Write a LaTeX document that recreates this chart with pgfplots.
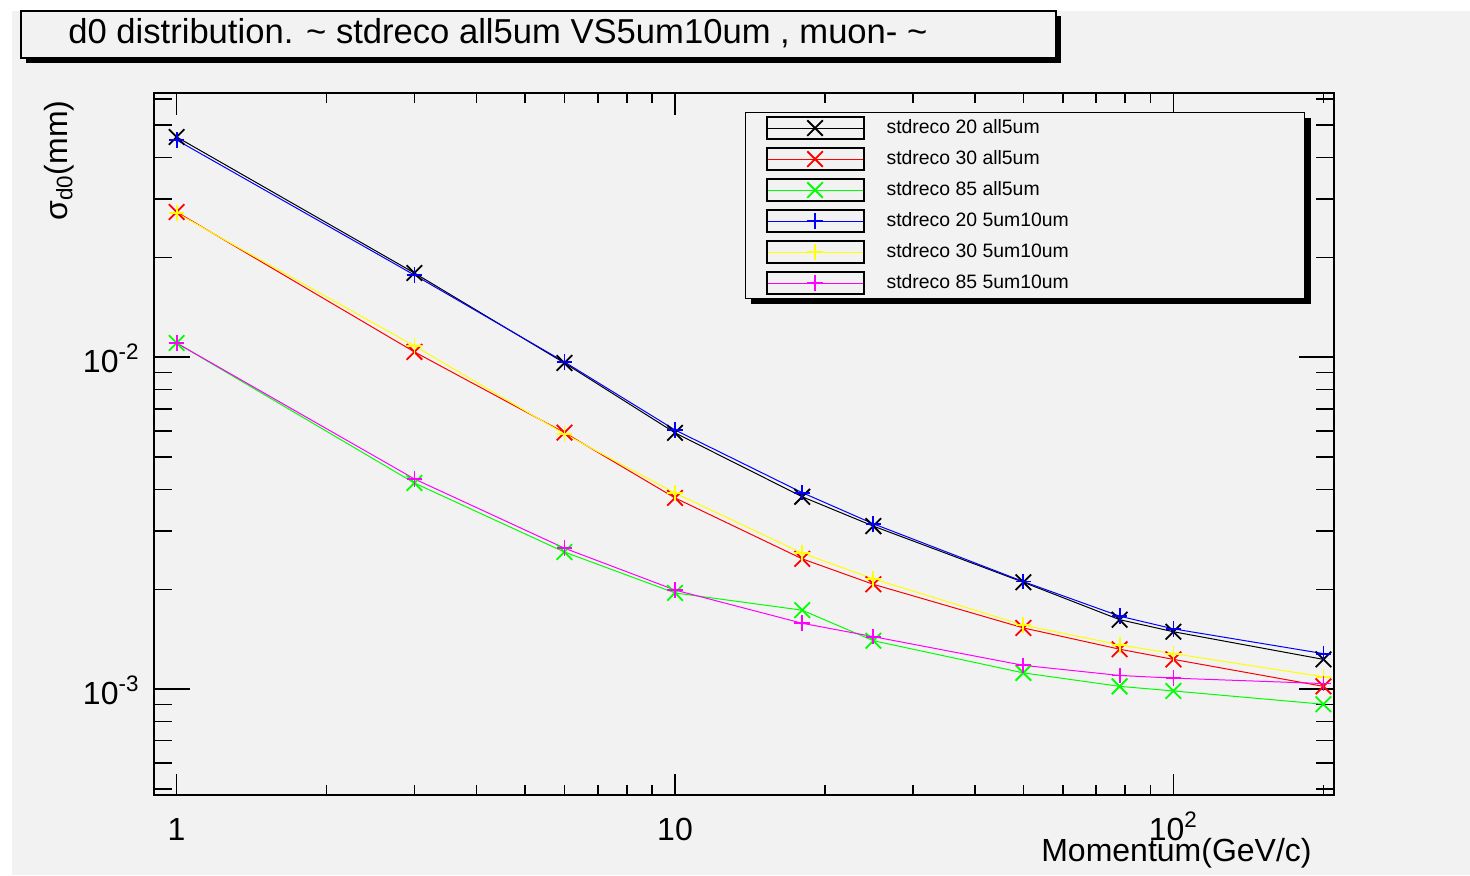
\documentclass[border=0pt]{standalone}
\usepackage{fontspec}
\setmainfont{Liberation Sans}
\usepackage{pgfplots}
\pgfplotsset{compat=1.18}
\usetikzlibrary{shadows}
\definecolor{rootbg}{RGB}{242,242,242}
\definecolor{rred}{RGB}{255,0,0}
\definecolor{rgreen}{RGB}{0,255,0}
\definecolor{rblue}{RGB}{0,0,255}
\definecolor{ryellow}{RGB}{255,255,0}
\definecolor{rmagenta}{RGB}{255,0,255}

\begin{document}
\begin{tikzpicture}
\path[use as bounding box] (-77.15pt,-40pt) rectangle (657.85pt,397.5pt);
\fill[rootbg] (-71.15pt,-40pt) rectangle (657.85pt,392pt);

% title box
\node[draw=black, line width=1pt, fill=rootbg,
      drop shadow={shadow xshift=2.5pt, shadow yshift=-2.5pt, fill=black, opacity=1},
      minimum width=517.5pt, minimum height=23.5pt, anchor=north west, inner sep=0pt]
  at (-67.15pt,392.5pt) {};
\node[anchor=base west, inner sep=0pt, font=\fontsize{17.3}{20}\selectfont]
  at (-43.15pt,375.5pt) {d0 distribution. \textasciitilde{} stdreco all5um VS5um10um , muon- \textasciitilde};

% shadow behind the legend box
\fill[black] (298.3pt,245.5pt) rectangle (578.3pt,338.5pt);

\begin{axis}[
    at={(0pt,0pt)}, anchor=south west,
    scale only axis,
    width=589.85pt, height=350.85pt,
    xmode=log, ymode=log,
    xmin=0.902, xmax=210,
    ymin=4.80e-4, ymax=0.0624,
    axis line style={line width=1pt},
    tick align=inside,
    tick style={black, line width=0.8pt},
    xtick style={/pgfplots/major tick length=10.8pt, /pgfplots/minor tick length=5pt},
    ytick style={/pgfplots/major tick length=17.7pt, /pgfplots/minor tick length=8.8pt},
    xtick={1,10,100},
    xticklabels={1,10,10\textsuperscript{2}},
    ytick={0.001,0.01},
    yticklabels={10\textsuperscript{-3},10\textsuperscript{-2}},
    minor xtick={2,3,4,5,6,7,8,9,20,30,40,50,60,70,80,90,200},
    minor ytick={0.0005,0.0006,0.0007,0.0008,0.0009,0.002,0.003,0.004,0.005,0.006,0.007,0.008,0.009,0.02,0.03,0.04,0.05,0.06},
    tick label style={font=\fontsize{16}{19}\selectfont, inner sep=0pt},
    xticklabel style={anchor=base, yshift=-22.5pt},
    yticklabel style={anchor=base east, xshift=-7.2pt, yshift=-7.6pt},
    xlabel={Momentum(GeV/c)},
    xlabel style={at={(rel axis cs:1,0)}, anchor=base east, inner sep=0pt,
                  xshift=-11pt, yshift=-33.3pt, font=\fontsize{16}{19}\selectfont},
    ylabel={σ\textsubscript{d0}(mm)},
    ylabel style={at={(rel axis cs:-0.0739,0.9905)}, anchor=base east, inner sep=0pt,
                  font=\fontsize{16}{19}\selectfont},
    legend style={at={(rel axis cs:0.5007,0.9734)}, anchor=north west,
                  draw=black, line width=0.6pt, fill=rootbg,
                  inner xsep=10pt, inner ysep=0pt, row sep=0pt, column sep=11pt,
                  font=\fontsize{9.7}{11}\selectfont,
                  nodes={inner sep=0pt, minimum height=15.5pt}},
    legend cell align=left,
    legend image code/.code={
        \draw[mark repeat=2, mark phase=2, #1] plot coordinates {(0pt,0pt) (24.25pt,0pt) (48.5pt,0pt)};
        \draw[black, line width=1pt, solid] (0pt,-5.5pt) rectangle (48.5pt,5.5pt);
    },
]
% stdreco 20 all5um
\addplot[black, line width=0.5pt, mark=x, mark size=5.5pt, mark options={line width=0.9pt}] coordinates {
    (1,0.04610) (3,0.01794) (6,0.00961) (10,0.00592) (18,0.00380)
    (25,0.00310) (50,0.00210) (78,0.00162) (100,0.00149) (200,0.00123)
};
\addlegendentry{\makebox[199pt][l]{stdreco 20 all5um}}
% stdreco 30 all5um
\addplot[rred, line width=0.5pt, mark=x, mark size=5.5pt, mark options={line width=0.9pt}] coordinates {
    (1,0.02740) (3,0.01038) (6,0.00593) (10,0.00377) (18,0.00247)
    (25,0.00207) (50,0.00153) (78,0.00132) (100,0.00123) (200,0.00102)
};
\addlegendentry{\makebox[199pt][l]{stdreco 30 all5um}}
% stdreco 85 all5um
\addplot[rgreen, line width=0.5pt, mark=x, mark size=5.5pt, mark options={line width=0.9pt}] coordinates {
    (1,0.01104) (3,0.00418) (6,0.00259) (10,0.00195) (18,0.00173)
    (25,0.00140) (50,0.00112) (78,0.00102) (100,0.000988) (200,0.000901)
};
\addlegendentry{\makebox[199pt][l]{stdreco 85 all5um}}
% stdreco 20 5um10um
\addplot[rblue, line width=0.5pt, mark=+, mark size=3.9pt, mark options={line width=0.9pt}] coordinates {
    (1,0.04514) (3,0.01769) (6,0.00968) (10,0.00604) (18,0.00391)
    (25,0.00315) (50,0.00211) (78,0.00166) (100,0.00152) (200,0.00128)
};
\addlegendentry{\makebox[199pt][l]{stdreco 20 5um10um}}
% stdreco 30 5um10um
\addplot[ryellow, line width=0.5pt, mark=+, mark size=3.9pt, mark options={line width=0.9pt}] coordinates {
    (1,0.02720) (3,0.01082) (6,0.00588) (10,0.00390) (18,0.00257)
    (25,0.00215) (50,0.00156) (78,0.00136) (100,0.00128) (200,0.00109)
};
\addlegendentry{\makebox[199pt][l]{stdreco 30 5um10um}}
% stdreco 85 5um10um
\addplot[rmagenta, line width=0.5pt, mark=+, mark size=3.9pt, mark options={line width=0.9pt}] coordinates {
    (1,0.01104) (3,0.00430) (6,0.00266) (10,0.00199) (18,0.00158)
    (25,0.00144) (50,0.00118) (78,0.00110) (100,0.00108) (200,0.00104)
};
\addlegendentry{\makebox[199pt][l]{stdreco 85 5um10um}}
\end{axis}
\end{tikzpicture}
\end{document}
